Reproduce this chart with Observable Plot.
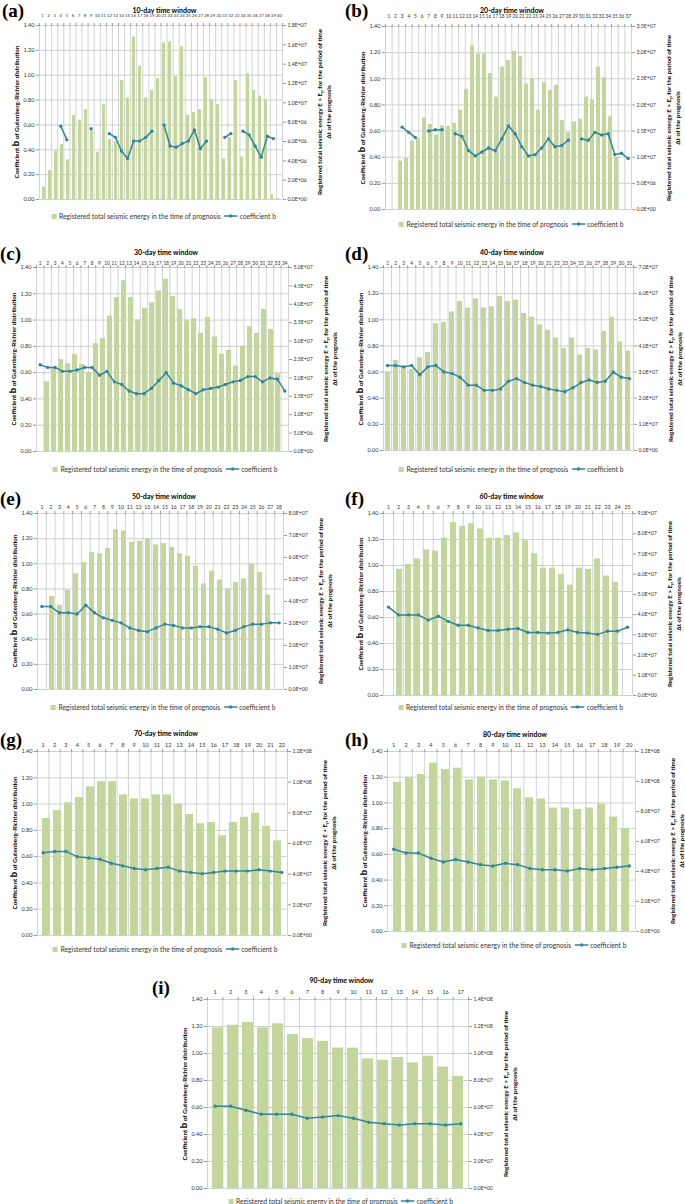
<!DOCTYPE html>
<html><head><meta charset="utf-8">
<script src="https://cdn.jsdelivr.net/npm/d3@7"></script>
<script src="https://cdn.jsdelivr.net/npm/@observablehq/plot@0.6"></script>
<style>
body{margin:0;background:#fff;}
#root{position:relative;width:685px;height:1204px;overflow:hidden;font-family:Lato,"Open Sans",sans-serif;color:#000;}
.plab{position:absolute;font-family:"Liberation Serif","DejaVu Serif",serif;font-weight:bold;font-size:19px;line-height:1;}
.ttl{position:absolute;font-weight:bold;font-size:7px;white-space:nowrap;transform:translate(-50%,-50%);}
.ltitle,.rtitle{position:absolute;font-weight:bold;font-size:6.3px;white-space:nowrap;text-align:center;line-height:1.35;transform:translate(-50%,-50%) rotate(-90deg);}
.ltitle .bb{font-size:9.5px;}
.rtitle sub{font-size:4.5px;vertical-align:-1px;line-height:0;}
.leg{position:absolute;font-size:6.7px;white-space:nowrap;color:#333;transform:translate(-50%,-50%);display:flex;align-items:center;}
.leg .sw{display:inline-block;width:5px;height:5px;background:#c3d69b;margin-right:3px;}
.leg svg{margin:0 2px 0 3px;}
</style></head><body><div id="root"></div>
<script>
// ---------- data ----------
const leftTicks = [0, 0.2, 0.4, 0.6, 0.8, 1.0, 1.2, 1.4];

const energy10 = [1.3e6,3.0e6,5.0e6,5.7e6,4.1e6,8.7e6,8.2e6,9.3e6,7.1e6,4.9e6,9.8e6,6.2e6,6.0e6,1.23e7,1.05e7,1.68e7,1.38e7,1.05e7,1.13e7,1.25e7,1.62e7,1.63e7,1.27e7,1.58e7,8.7e6,9.0e6,9.3e6,1.26e7,1.03e7,9.8e6,4.2e6,6.4e6,1.23e7,4.4e6,1.30e7,1.13e7,1.07e7,1.03e7,5.0e5,1.0e5];
const b10 = [null,null,null,0.59,0.48,null,null,null,0.57,null,null,0.53,0.50,0.39,0.33,0.47,0.47,0.50,0.55,null,0.60,0.43,0.42,0.45,0.47,0.56,0.41,0.47,null,null,0.50,0.53,null,0.55,0.52,0.43,0.34,0.51,0.49,null];
const rticks10 = [0,2e6,4e6,6e6,8e6,1e7,1.2e7,1.4e7,1.6e7,1.8e7];

const energy20 = [9.25e6,9.75e6,1.30e7,1.35e7,1.75e7,1.625e7,1.425e7,1.60e7,1.59e7,1.65e7,1.90e7,2.30e7,3.125e7,2.975e7,2.975e7,2.60e7,2.15e7,2.725e7,2.85e7,3.025e7,2.925e7,2.40e7,2.50e7,1.90e7,2.425e7,2.275e7,2.375e7,1.70e7,1.475e7,1.675e7,1.725e7,2.15e7,2.10e7,2.725e7,2.525e7,1.775e7,1.00e7];
const b20 = [null,null,0.63,0.59,0.55,null,0.60,0.61,0.61,null,0.58,0.56,0.45,0.41,0.44,0.47,0.45,0.54,0.64,0.58,0.48,0.41,0.42,0.47,0.54,0.48,0.49,0.53,null,0.54,0.53,0.59,0.57,0.58,0.42,0.43,0.39];
const rticks20 = [0,5e6,1e7,1.5e7,2e7,2.5e7,3e7,3.5e7];

const energy30 = [1.89e7,2.29e7,2.50e7,2.39e7,2.64e7,2.36e7,2.14e7,2.93e7,3.07e7,3.68e7,4.18e7,4.64e7,4.18e7,3.57e7,3.89e7,4.04e7,4.36e7,4.68e7,4.21e7,3.86e7,3.57e7,3.61e7,3.21e7,3.64e7,3.11e7,2.64e7,2.75e7,2.32e7,2.86e7,3.39e7,3.21e7,3.86e7,3.32e7,2.11e7];
const b30 = [0.66,0.64,0.64,0.61,0.61,0.62,0.64,0.64,0.58,0.61,0.53,0.51,0.46,0.44,0.44,0.48,0.54,0.60,0.52,0.50,0.47,0.44,0.47,0.48,0.49,0.51,0.53,0.54,0.57,0.57,0.53,0.56,0.55,0.46];
const rticks30 = [0,5e6,1e7,1.5e7,2e7,2.5e7,3e7,3.5e7,4e7,4.5e7,5e7];

const energy40 = [3.00e7,3.45e7,3.20e7,3.10e7,3.55e7,3.75e7,4.85e7,4.90e7,5.30e7,5.70e7,5.45e7,5.80e7,5.45e7,5.50e7,5.90e7,5.70e7,5.75e7,5.25e7,5.10e7,4.80e7,4.60e7,4.30e7,3.90e7,4.30e7,3.65e7,3.90e7,3.85e7,4.55e7,5.10e7,4.15e7,3.80e7];
const b40 = [0.65,0.65,0.64,0.65,0.58,0.64,0.65,0.60,0.59,0.56,0.50,0.50,0.46,0.46,0.47,0.53,0.55,0.52,0.50,0.49,0.47,0.46,0.45,0.48,0.52,0.54,0.52,0.53,0.60,0.56,0.55];
const rticks40 = [0,1e7,2e7,3e7,4e7,5e7,6e7,7e7];

const energy50 = [4.23e7,3.83e7,4.51e7,5.26e7,5.77e7,6.23e7,6.17e7,6.40e7,7.26e7,7.20e7,6.69e7,6.74e7,6.86e7,6.57e7,6.63e7,6.46e7,6.17e7,6.06e7,5.60e7,4.80e7,5.37e7,4.97e7,4.57e7,4.86e7,5.03e7,5.71e7,5.31e7,4.29e7];
const b50 = [0.66,0.66,0.61,0.61,0.60,0.67,0.61,0.57,0.55,0.53,0.49,0.47,0.46,0.49,0.52,0.51,0.49,0.49,0.50,0.50,0.48,0.45,0.47,0.50,0.52,0.52,0.53,0.53];
const rticks50 = [0,1e7,2e7,3e7,4e7,5e7,6e7,7e7,8e7];

const energy60 = [6.24e7,6.49e7,6.75e7,7.20e7,7.14e7,7.78e7,8.55e7,8.36e7,8.49e7,8.23e7,7.78e7,7.78e7,7.91e7,8.04e7,7.65e7,7.01e7,6.30e7,6.30e7,5.98e7,5.46e7,6.30e7,6.24e7,6.75e7,5.91e7,5.59e7];
const b60 = [0.68,0.62,0.62,0.62,0.58,0.61,0.57,0.54,0.54,0.52,0.50,0.50,0.51,0.515,0.485,0.485,0.48,0.485,0.505,0.485,0.48,0.47,0.495,0.495,0.525];
const rticks60 = [0,1e7,2e7,3e7,4e7,5e7,6e7,7e7,8e7,9e7];

const energy70 = [7.63e7,8.14e7,8.66e7,9.00e7,9.69e7,1.003e8,1.003e8,9.17e7,8.91e7,8.91e7,9.17e7,9.17e7,8.57e7,7.89e7,7.29e7,7.37e7,6.51e7,7.37e7,7.71e7,7.97e7,7.11e7,6.17e7];
const b70 = [0.63,0.64,0.64,0.60,0.59,0.58,0.55,0.53,0.51,0.50,0.51,0.52,0.49,0.48,0.47,0.48,0.49,0.49,0.49,0.50,0.49,0.48];
const rticks70 = [0,2e7,4e7,6e7,8e7,1e8,1.2e8];

const energy80 = [9.94e7,1.029e8,1.046e8,1.123e8,1.080e8,1.089e8,1.011e8,1.029e8,1.011e8,1.003e8,9.51e7,8.91e7,8.83e7,8.23e7,8.23e7,8.14e7,8.23e7,8.49e7,7.63e7,6.86e7];
const b80 = [0.64,0.61,0.61,0.57,0.54,0.56,0.54,0.52,0.51,0.53,0.52,0.49,0.48,0.48,0.47,0.49,0.48,0.49,0.50,0.51];
const rticks80 = [0,2e7,4e7,6e7,8e7,1e8,1.2e8];

const energy90 = [1.19e8,1.21e8,1.23e8,1.19e8,1.22e8,1.14e8,1.11e8,1.09e8,1.04e8,1.04e8,9.6e7,9.5e7,9.7e7,9.3e7,9.8e7,9.0e7,8.3e7];
const b90 = [0.61,0.61,0.58,0.55,0.55,0.55,0.52,0.53,0.54,0.52,0.49,0.48,0.47,0.48,0.48,0.47,0.48];
const rticks90 = [0,2e7,4e7,6e7,8e7,1e8,1.2e8,1.4e8];

const leftTitle = 'Coefficient <span class="bb">b</span> of Gutenberg-Richter distribution';
const rightTitle1 = 'Registered total seismic energy E &gt; E<sub>p</sub> for the period of time';
const rightTitle2 = '\u0394t of the prognosis';
const legendBars = 'Registered total seismic energy in the time of prognosis';
const legendLine = 'coefficient b';

// ---------- layout (positions / styles) ----------
const GREEN = "#c3d69b", TEAL = "#31859c";
const panels = [
 {letter:"a", days:10, energy:energy10, b:b10, rticks:rticks10, L:39, R:282, T:25,  B:199,  pad:0.45, fs:4.4, off:11, lx:2,   ly:1,   ty:10,  gy:216},
 {letter:"b", days:20, energy:energy20, b:b20, rticks:rticks20, L:385,R:631, T:26,  B:209,  pad:0.40, fs:4.8, off:11, lx:345, ly:1,   ty:10,  gy:224},
 {letter:"c", days:30, energy:energy30, b:b30, rticks:rticks30, L:36, R:288, T:267, B:451,  pad:0.32, fs:4.8, off:5,  lx:0,   ly:244, ty:252, gy:469},
 {letter:"d", days:40, energy:energy40, b:b40, rticks:rticks40, L:383,R:633, T:267, B:450,  pad:0.34, fs:4.8, off:5,  lx:345, ly:244, ty:252, gy:469},
 {letter:"e", days:50, energy:energy50, b:b50, rticks:rticks50, L:37, R:283, T:513, B:689,  pad:0.32, fs:5.2, off:7,  lx:0,   ly:489, ty:496, gy:707},
 {letter:"f", days:60, energy:energy60, b:b60, rticks:rticks60, L:383,R:632, T:513, B:695,  pad:0.33, fs:5.2, off:7,  lx:345, ly:489, ty:496, gy:707},
 {letter:"g", days:70, energy:energy70, b:b70, rticks:rticks70, L:37, R:287, T:751, B:935,  pad:0.27, fs:5.5, off:7,  lx:0,   ly:730, ty:733, gy:949},
 {letter:"h", days:80, energy:energy80, b:b80, rticks:rticks80, L:387,R:635, T:751, B:931,  pad:0.33, fs:5.5, off:7,  lx:345, ly:730, ty:734, gy:945},
 {letter:"i", days:90, energy:energy90, b:b90, rticks:rticks90, L:207,R:468, T:999, B:1188, pad:0.30, fs:5.5, off:8,  lx:152, ly:978, ty:980, gy:1201}
];

function fmtE(v){
  if (v === 0) return "0.0E+00";
  const e = Math.floor(Math.log10(v) + 1e-9);
  const m = v / Math.pow(10, e);
  return m.toFixed(1) + "E+" + String(e).padStart(2, "0");
}

const root = document.getElementById("root");
function addDiv(cls, html, left, top){
  const d = document.createElement("div");
  d.className = cls; d.innerHTML = html;
  d.style.left = left + "px"; d.style.top = top + "px";
  root.appendChild(d); return d;
}

for (const p of panels){
  const N = p.energy.length;
  const idx = d3.range(1, N + 1);
  const rows = idx.map((k, i) => ({k, E: p.energy[i], b: p.b[i] == null ? NaN : p.b[i]}));
  const bounds = d3.range(0, N + 1).map(k => k + 0.5);
  const padL = 45, padR = 55, padT = 22, padB = 5;
  const common = {
    width: p.R - p.L + padL + padR,
    height: p.B - p.T + padT + padB,
    marginLeft: padL, marginRight: padR, marginTop: padT, marginBottom: padB,
    style: {background: "transparent", overflow: "visible", fontFamily: "Lato, 'Open Sans', sans-serif"}
  };
  const xLin = {type: "linear", domain: [0.5, N + 0.5], axis: null};
  const yB = {domain: [0, 1.4], axis: null};

  const grid = Plot.plot({...common, x: xLin, y: yB, marks: [
    Plot.ruleY(leftTicks, {stroke: "#c4c4c4", strokeWidth: 0.8}),
    Plot.ruleX(bounds, {stroke: "#c8c8c8", strokeWidth: 0.8}),
    Plot.axisY({anchor: "left", ticks: leftTicks, tickFormat: d => d.toFixed(2), tickSize: 3, tickPadding: 2, fontSize: 5.6, stroke: "#9a9a9a", fill: "#333", label: null}),
    Plot.axisX({anchor: "top", ticks: bounds, tickSize: 3, tickFormat: () => "", stroke: "#9a9a9a", label: null}),
    Plot.axisX({anchor: "top", ticks: idx, tickSize: 0, tickPadding: p.off - p.fs / 2, tickFormat: d => String(d), fontSize: p.fs, fill: "#333", label: null})
  ]});

  const bars = Plot.plot({...common,
    x: {type: "band", domain: idx, paddingInner: p.pad, paddingOuter: p.pad / 2, axis: null},
    y: {domain: [0, p.rticks[p.rticks.length - 1]], axis: null},
    marks: [
      Plot.barY(rows, {x: "k", y: "E", fill: GREEN}),
      Plot.axisY({anchor: "right", ticks: p.rticks, tickFormat: fmtE, tickSize: 3, tickPadding: 2, fontSize: 5.2, stroke: "#9a9a9a", fill: "#333", label: null})
    ]});

  const line = Plot.plot({...common, x: xLin, y: yB, marks: [
    Plot.line(rows, {x: "k", y: "b", stroke: TEAL, strokeWidth: 1.5}),
    Plot.dot(rows.filter(d => !isNaN(d.b)), {x: "k", y: "b", r: 1.7, fill: TEAL, stroke: "none"})
  ]});

  for (const svg of [grid, bars, line]){
    svg.style.position = "absolute";
    svg.style.left = (p.L - padL) + "px";
    svg.style.top = (p.T - padT) + "px";
    root.appendChild(svg);
  }

  const mid = (p.T + p.B) / 2, cx = (p.L + p.R) / 2;
  addDiv("plab", "(" + p.letter + ")", p.lx, p.ly);
  addDiv("ttl", p.days + "-day time window", cx + 4, p.ty);
  addDiv("ltitle", leftTitle, p.L - 23, mid);
  addDiv("rtitle", "<div>" + rightTitle1 + "</div><div>" + rightTitle2 + "</div>", p.R + 42, mid);
  addDiv("leg",
    '<span class="sw"></span><span>' + legendBars + '</span>' +
    '<svg width="14" height="6"><line x1="0" y1="3" x2="14" y2="3" stroke="' + TEAL + '" stroke-width="1.3"/><circle cx="7" cy="3" r="1.7" fill="' + TEAL + '"/></svg>' +
    '<span>' + legendLine + '</span>', cx + 3, p.gy);
}
</script></body></html>
